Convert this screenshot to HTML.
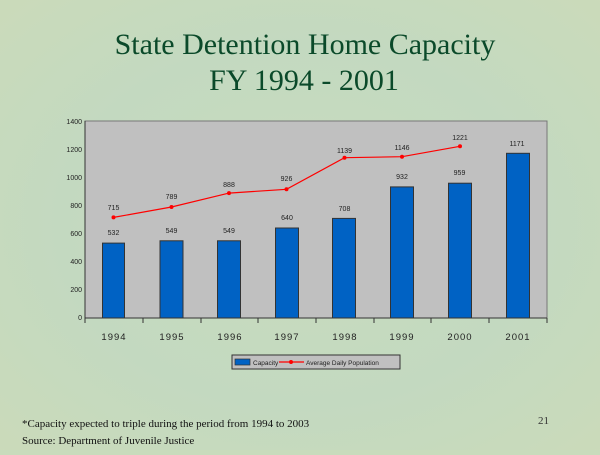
<!DOCTYPE html>
<html><head><style>
body{margin:0;width:600px;height:450px;overflow:hidden;background:#c8dcbc;font-family:"Liberation Serif",serif;}
</style></head><body>
<svg width="600" height="450" xmlns="http://www.w3.org/2000/svg">
<defs>
<radialGradient id="bg" cx="0.5" cy="0.5" r="0.8">
<stop offset="0" stop-color="#c9dcbd"/><stop offset="0.5" stop-color="#c3d9c0"/><stop offset="1" stop-color="#cddbb8"/>
</radialGradient>
</defs>
<rect width="600" height="450" fill="url(#bg)"/>
<text x="305" y="54" text-anchor="middle" font-family="Liberation Serif" font-size="30" fill="#0b4a2a">State Detention Home Capacity</text>
<text x="304" y="90" text-anchor="middle" font-family="Liberation Serif" font-size="30" fill="#0b4a2a">FY 1994 - 2001</text>
<rect x="85" y="121" width="462" height="197" fill="#c0c0c0" stroke="#777" stroke-width="1"/>
<g font-family="Liberation Sans" font-size="7" fill="#222" text-anchor="end">
<text x="82" y="320">0</text><text x="82" y="292">200</text><text x="82" y="264">400</text>
<text x="82" y="236">600</text><text x="82" y="208">800</text><text x="82" y="180">1000</text>
<text x="82" y="152">1200</text><text x="82" y="124">1400</text>
</g>
<g stroke="#333" stroke-width="1">
<line x1="85" y1="121" x2="85" y2="318"/><line x1="85" y1="318" x2="547" y2="318"/>
<line x1="85" y1="318" x2="85" y2="323"/><line x1="143" y1="318" x2="143" y2="323"/><line x1="201" y1="318" x2="201" y2="323"/><line x1="258" y1="318" x2="258" y2="323"/><line x1="316" y1="318" x2="316" y2="323"/><line x1="374" y1="318" x2="374" y2="323"/><line x1="431" y1="318" x2="431" y2="323"/><line x1="489" y1="318" x2="489" y2="323"/><line x1="547" y1="318" x2="547" y2="323"/>
</g>
<g fill="#0062c4" stroke="#333" stroke-width="1">
<rect x="102.5" y="243.1" width="22" height="74.9"/>
<rect x="160" y="240.8" width="23" height="77.2"/>
<rect x="217.5" y="240.8" width="23" height="77.2"/>
<rect x="275.5" y="228" width="23" height="90"/>
<rect x="332.5" y="218.4" width="23" height="99.6"/>
<rect x="390.5" y="186.9" width="23" height="131.1"/>
<rect x="448.5" y="183.2" width="23" height="134.8"/>
<rect x="506.5" y="153.3" width="23" height="164.7"/>
</g>
<polyline fill="none" stroke="#ff0000" stroke-width="1.2" points="113.5,217.4 171.5,207 229,193.1 286.5,189.3 344.5,157.7 402,156.7 460,146.3"/>
<g fill="#ff0000">
<circle cx="113.5" cy="217.4" r="2"/><circle cx="171.5" cy="207" r="2"/><circle cx="229" cy="193.1" r="2"/><circle cx="286.5" cy="189.3" r="2"/><circle cx="344.5" cy="157.7" r="2"/><circle cx="402" cy="156.7" r="2"/><circle cx="460" cy="146.3" r="2"/>
</g>
<g font-family="Liberation Sans" font-size="7" fill="#222" text-anchor="middle">
<text x="113.5" y="235">532</text><text x="171.5" y="233">549</text><text x="229" y="233">549</text><text x="287" y="220">640</text><text x="344.5" y="211">708</text><text x="402" y="179">932</text><text x="459.5" y="175">959</text><text x="517" y="146">1171</text>
<text x="113.5" y="210">715</text><text x="171.5" y="199">789</text><text x="229" y="187">888</text><text x="286.5" y="181">926</text><text x="344.5" y="153">1139</text><text x="402" y="150">1146</text><text x="460" y="140">1221</text>
</g>
<g font-family="Liberation Sans" font-size="9.5" fill="#222" text-anchor="middle" letter-spacing="1">
<text x="114" y="340">1994</text><text x="172" y="340">1995</text><text x="230" y="340">1996</text><text x="287" y="340">1997</text><text x="345" y="340">1998</text><text x="402" y="340">1999</text><text x="460" y="340">2000</text><text x="518" y="340">2001</text>
</g>
<rect x="232" y="355" width="168" height="14" fill="#c0c0c0" stroke="#333" stroke-width="1"/>
<rect x="235" y="359" width="15" height="6" fill="#0062c4" stroke="#333" stroke-width="0.7"/>
<line x1="279" y1="362" x2="304" y2="362" stroke="#f00" stroke-width="1.2"/>
<circle cx="291" cy="362" r="2" fill="#f00"/>
<g font-family="Liberation Sans" font-size="6.5" fill="#222">
<text x="253" y="365">Capacity</text><text x="306" y="365">Average Daily Population</text>
</g>
<g font-family="Liberation Serif" font-size="11" fill="#111">
<text x="22" y="427">*Capacity expected to triple during the period from 1994 to 2003</text>
<text x="22" y="444">Source: Department of Juvenile Justice</text>
<text x="538" y="424" fill="#333">21</text>
</g>
</svg>
</body></html>
